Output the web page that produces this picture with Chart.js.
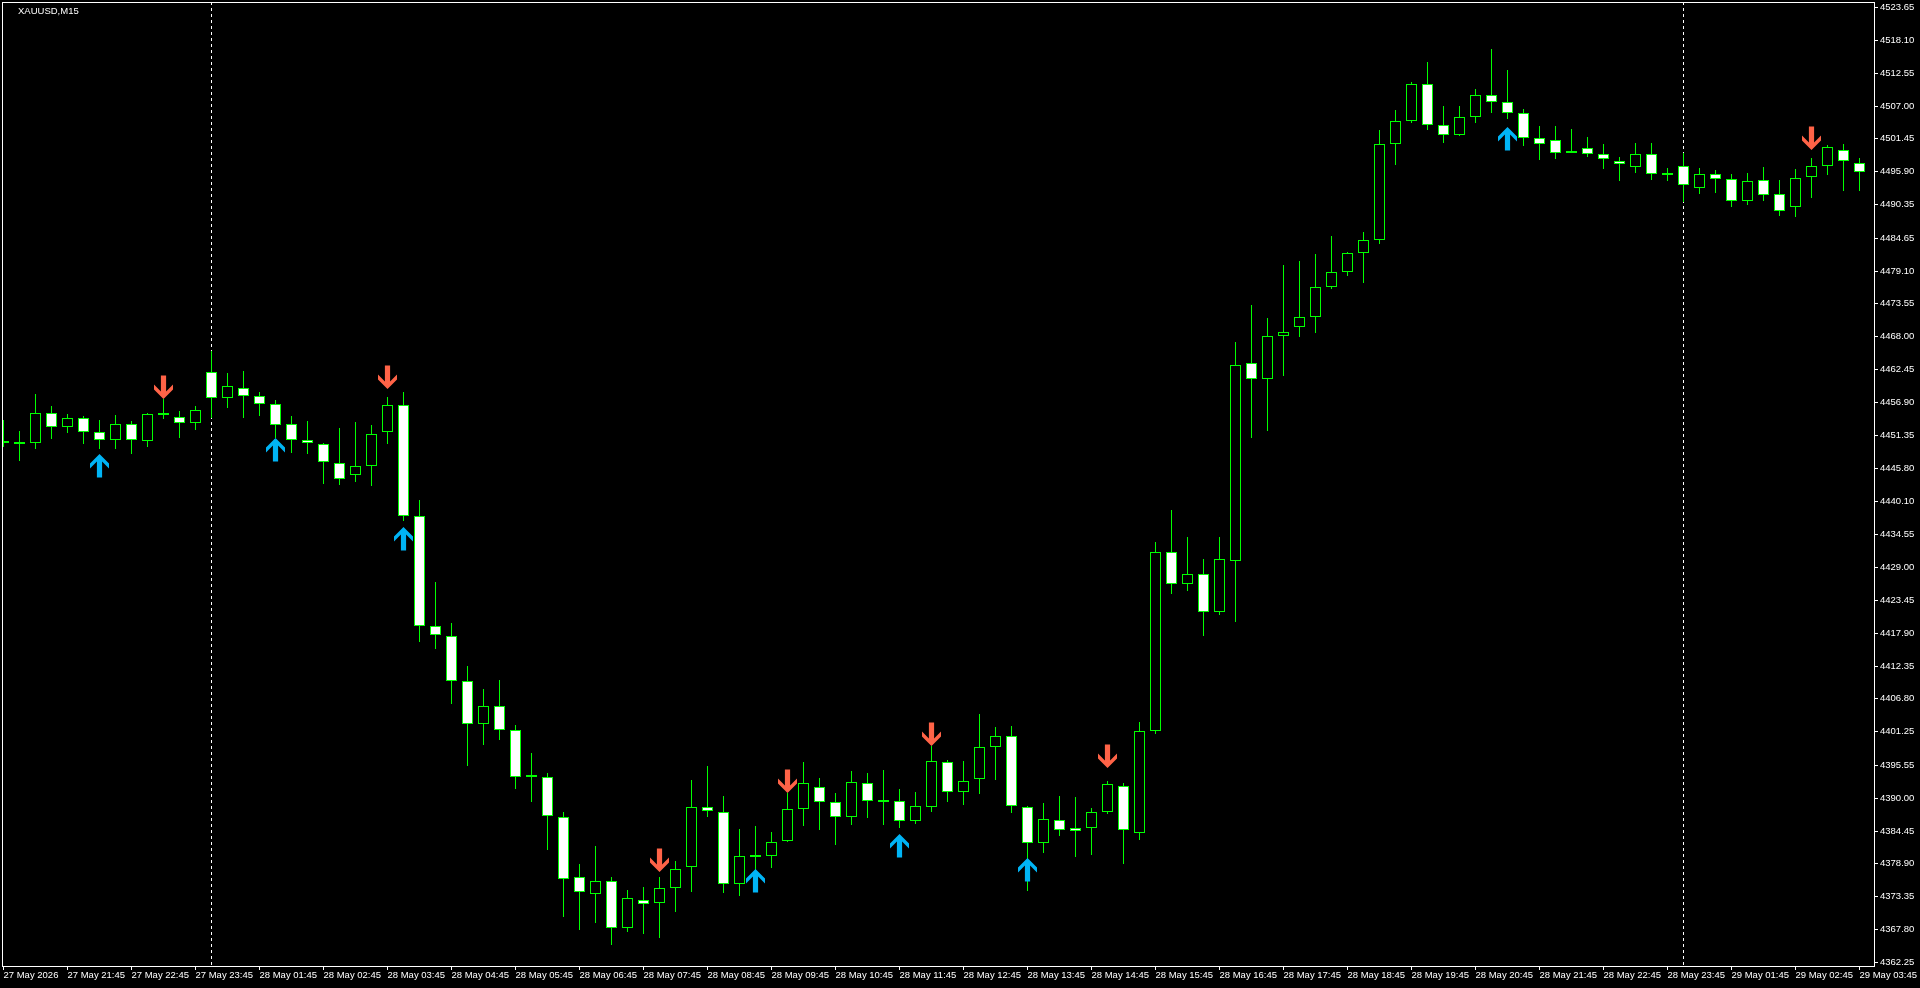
<!DOCTYPE html>
<html>
<head>
<meta charset="utf-8">
<title>XAUUSD,M15</title>
<script src="https://cdn.jsdelivr.net/npm/chart.js@4.4.1/dist/chart.umd.min.js"></script>
<style>
html, body { margin: 0; padding: 0; background: #000; overflow: hidden; }
#wrap { width: 1920px; height: 988px; }
</style>
</head>
<body>
<div id="wrap"><canvas id="candleChart" width="1920" height="988"></canvas></div>
<script>
var symbolTitle = 'XAUUSD,M15';

// OHLC, 117 bars of 15 min (27 May 20:45 .. 29 May 03:45)
var opens = [
	4450.00, 4449.85, 4449.90, 4454.98, 4452.61, 4454.13, 4451.76, 4450.47, 4453.12, 4450.24,
	4454.98, 4454.30, 4453.29, 4461.90, 4457.51, 4459.20, 4457.85, 4456.50, 4453.12, 4450.41,
	4449.74, 4446.65, 4444.58, 4446.01, 4451.77, 4456.36, 4437.66, 4418.97, 4417.42, 4409.66,
	4402.41, 4405.45, 4401.38, 4393.49, 4393.49, 4386.70, 4376.54, 4373.76, 4376.02, 4367.93,
	4372.79, 4372.16, 4374.70, 4378.25, 4388.50, 4387.66, 4375.38, 4380.28, 4380.11, 4382.64,
	4388.05, 4391.88, 4389.23, 4386.70, 4392.45, 4389.40, 4389.40, 4386.14, 4388.50, 4395.99,
	4390.93, 4393.23, 4398.56, 4400.52, 4388.48, 4382.33, 4386.18, 4384.95, 4384.95, 4387.66,
	4391.92, 4383.97, 4401.34, 4431.49, 4426.08, 4427.88, 4421.33, 4430.09, 4463.44, 4460.73,
	4468.02, 4469.51, 4471.20, 4476.27, 4478.80, 4482.01, 4484.21, 4500.44, 4504.32, 4510.58,
	4503.65, 4501.96, 4505.00, 4508.72, 4507.54, 4505.68, 4501.56, 4501.11, 4498.92, 4499.76,
	4498.75, 4497.56, 4496.66, 4498.75, 4495.25, 4496.72, 4493.11, 4495.37, 4494.52, 4490.80,
	4494.35, 4491.99, 4489.79, 4494.86, 4496.72, 4499.42, 4497.23
];
var highs = [
	4453.85, 4451.99, 4458.24, 4456.22, 4454.86, 4454.53, 4453.85, 4454.69, 4453.68, 4455.09,
	4457.34, 4455.37, 4456.22, 4465.51, 4461.79, 4462.13, 4458.64, 4457.17, 4454.53, 4453.68,
	4450.02, 4452.48, 4453.51, 4452.99, 4457.72, 4458.56, 4440.25, 4426.47, 4419.62, 4412.24,
	4408.36, 4409.98, 4402.22, 4397.56, 4394.13, 4387.67, 4378.74, 4381.84, 4376.54, 4374.40,
	4374.92, 4376.67, 4379.32, 4393.01, 4395.38, 4390.30, 4384.73, 4385.23, 4384.22, 4390.76,
	4396.05, 4393.29, 4390.76, 4394.53, 4394.19, 4394.70, 4391.49, 4390.98, 4398.81, 4396.39,
	4396.22, 4404.21, 4401.99, 4402.16, 4388.60, 4389.05, 4390.28, 4390.12, 4388.23, 4392.82,
	4392.58, 4402.81, 4433.29, 4438.70, 4434.11, 4430.42, 4434.11, 4466.96, 4473.27, 4471.14,
	4480.07, 4480.72, 4481.90, 4484.94, 4482.24, 4485.62, 4502.86, 4506.24, 4510.92, 4514.35,
	4506.92, 4506.92, 4509.79, 4516.55, 4513.00, 4506.35, 4503.53, 4503.53, 4503.03, 4501.68,
	4500.49, 4498.30, 4500.66, 4500.66, 4496.38, 4498.92, 4496.38, 4496.04, 4495.37, 4495.59,
	4496.61, 4494.41, 4496.27, 4498.07, 4500.27, 4500.49, 4498.07
];
var lows = [
	4449.34, 4446.98, 4449.00, 4450.69, 4451.71, 4449.79, 4449.00, 4449.00, 4448.16, 4449.34,
	4454.07, 4450.86, 4452.16, 4454.13, 4455.88, 4454.24, 4454.53, 4450.80, 4448.33, 4448.16,
	4442.98, 4442.90, 4443.29, 4442.77, 4449.83, 4436.82, 4416.38, 4415.22, 4405.78, 4395.43,
	4398.98, 4399.82, 4391.55, 4389.28, 4381.20, 4369.88, 4367.61, 4368.90, 4365.15, 4367.29,
	4366.96, 4366.25, 4370.76, 4374.14, 4386.70, 4373.97, 4373.46, 4377.80, 4378.19, 4382.50,
	4385.24, 4384.56, 4382.02, 4385.40, 4386.64, 4385.40, 4384.95, 4385.63, 4387.66, 4389.35,
	4388.84, 4390.69, 4392.98, 4387.41, 4374.30, 4380.70, 4383.56, 4380.04, 4380.29, 4387.25,
	4378.89, 4382.91, 4400.77, 4424.52, 4424.93, 4417.40, 4420.84, 4419.77, 4450.74, 4452.05,
	4461.22, 4467.94, 4468.60, 4476.00, 4478.24, 4477.06, 4483.54, 4497.00, 4504.00, 4502.86,
	4500.72, 4501.90, 4504.10, 4505.79, 4504.77, 4500.21, 4497.84, 4498.01, 4498.90, 4498.35,
	4496.32, 4494.30, 4495.65, 4494.46, 4494.30, 4490.75, 4492.10, 4492.27, 4489.90, 4490.24,
	4490.92, 4488.38, 4488.21, 4491.42, 4495.31, 4492.61, 4492.61
];
var closes = [
	4449.90, 4449.95, 4454.98, 4452.72, 4454.13, 4451.76, 4450.47, 4453.12, 4450.41, 4454.81,
	4454.64, 4453.29, 4455.48, 4457.51, 4459.54, 4457.85, 4456.50, 4452.95, 4450.41, 4449.90,
	4446.69, 4443.81, 4446.01, 4451.44, 4456.36, 4437.66, 4418.97, 4417.48, 4409.66, 4402.41,
	4405.45, 4401.38, 4393.49, 4393.45, 4386.89, 4376.22, 4374.08, 4376.02, 4367.93, 4372.98,
	4372.01, 4374.70, 4377.91, 4388.39, 4387.77, 4375.38, 4380.11, 4379.94, 4382.47, 4388.05,
	4392.45, 4389.23, 4386.70, 4392.61, 4389.40, 4389.35, 4386.14, 4388.56, 4396.16, 4390.93,
	4392.78, 4398.56, 4400.52, 4388.64, 4382.33, 4386.35, 4384.55, 4384.46, 4387.66, 4392.33,
	4384.63, 4401.34, 4431.49, 4426.16, 4427.88, 4421.33, 4430.42, 4463.19, 4460.73, 4468.10,
	4468.68, 4471.20, 4476.27, 4478.80, 4482.01, 4484.21, 4500.44, 4504.32, 4510.58, 4503.65,
	4501.96, 4505.00, 4508.72, 4507.54, 4505.68, 4501.56, 4500.44, 4498.92, 4499.25, 4498.75,
	4497.90, 4497.11, 4498.75, 4495.37, 4495.22, 4493.51, 4495.37, 4494.52, 4490.80, 4494.18,
	4491.82, 4489.11, 4494.69, 4496.72, 4499.93, 4497.56, 4495.71
];

// signal arrows (bar index, price at the arrow tip)
var upArrowBars = [6, 17, 25, 47, 56, 64, 94];
var upArrowPrices = [4448.10, 4450.86, 4435.72, 4377.97, 4383.88, 4379.88, 4503.42];
var downArrowBars = [10, 24, 41, 49, 58, 69, 113];
var downArrowPrices = [4457.34, 4459.07, 4377.40, 4390.76, 4398.81, 4395.03, 4499.48];

// day separators (first bar of 28 May and 29 May)
var daySeparators = [13, 105];

// time axis labels
var xTickBars = [0, 4, 8, 12, 16, 20, 24, 28, 32, 36, 40, 44, 48, 52, 56, 60, 64, 68, 72, 76, 80, 84, 88, 92, 96, 100, 104, 108, 112, 116];
var xTickLabels = [
	'27 May 2026', '27 May 21:45', '27 May 22:45', '27 May 23:45', '28 May 01:45', '28 May 02:45',
	'28 May 03:45', '28 May 04:45', '28 May 05:45', '28 May 06:45', '28 May 07:45', '28 May 08:45',
	'28 May 09:45', '28 May 10:45', '28 May 11:45', '28 May 12:45', '28 May 13:45', '28 May 14:45',
	'28 May 15:45', '28 May 16:45', '28 May 17:45', '28 May 18:45', '28 May 19:45', '28 May 20:45',
	'28 May 21:45', '28 May 22:45', '28 May 23:45', '29 May 01:45', '29 May 02:45', '29 May 03:45'
];

// price axis labels
var yTickLabels = [
	'4362.25', '4367.80', '4373.35', '4378.90', '4384.45', '4390.00', '4395.55', '4401.25', '4406.80', '4412.35',
	'4417.90', '4423.45', '4429.00', '4434.55', '4440.10', '4445.80', '4451.35', '4456.90', '4462.45', '4468.00',
	'4473.55', '4479.10', '4484.65', '4490.35', '4495.90', '4501.45', '4507.00', '4512.55', '4518.10', '4523.65'
];

var LIME = '#00ff00';
var FONT = { family: "'Liberation Sans', Arial, sans-serif", size: 9.5, lineHeight: 1 };

// wingdings-like arrow, tip in the middle of the image
function makeArrow(color, up) {
	var c = document.createElement('canvas');
	c.width = 21;
	c.height = 48;
	var g = c.getContext('2d');
	var cx = 10.5, cy = 24, s = up ? 1 : -1;
	var pts = [[0, 0], [9.5, 9.5], [9.5, 14.5], [2.6, 7.6], [2.6, 23.5], [-2.6, 23.5], [-2.6, 7.6], [-9.5, 14.5], [-9.5, 9.5]];
	g.beginPath();
	for (var i = 0; i < pts.length; i++) {
		var px = cx + pts[i][0], py = cy + s * pts[i][1];
		if (i == 0) g.moveTo(px, py); else g.lineTo(px, py);
	}
	g.closePath();
	g.fillStyle = color;
	g.fill();
	return c;
}

var wickData = [], bodyData = [];
for (var i = 0; i < opens.length; i++) {
	wickData.push({ x: i, y: [lows[i], highs[i]] });
	bodyData.push({ x: i, y: [opens[i], closes[i]] });
}
var upData = upArrowBars.map(function(b, i) { return { x: b, y: upArrowPrices[i] }; });
var downData = downArrowBars.map(function(b, i) { return { x: b, y: downArrowPrices[i] }; });

var framePlugin = {
	id: 'frame',
	afterDraw: function(chart) {
		var a = chart.chartArea, ctx = chart.ctx;
		ctx.save();
		ctx.strokeStyle = '#ffffff';
		ctx.lineWidth = 1;
		ctx.strokeRect(a.left + 0.5, a.top + 0.5, a.right - a.left, a.bottom - a.top);
		ctx.fillStyle = '#ffffff';
		ctx.font = "9.5px 'Liberation Sans', Arial, sans-serif";
		ctx.textBaseline = 'middle';
		ctx.fillText(symbolTitle, 18, 11);
		ctx.restore();
	}
};

var ctx = document.getElementById('candleChart').getContext('2d');
var myChart = new Chart(ctx, {
	type: 'bar',
	data: {
		datasets: [
			{
				type: 'scatter',
				data: upData,
				pointStyle: makeArrow('#00b4f5', true),
				pointRadius: 1,
				pointBorderWidth: 0,
				order: 0
			},
			{
				type: 'scatter',
				data: downData,
				pointStyle: makeArrow('#ff6347', false),
				pointRadius: 1,
				pointBorderWidth: 0,
				order: 0
			},
			{
				label: 'body',
				data: bodyData,
				grouped: false,
				barThickness: 11,
				minBarLength: 2,
				inflateAmount: 0,
				borderSkipped: false,
				borderWidth: 1,
				borderColor: LIME,
				backgroundColor: function(c) {
					var i = c.dataIndex;
					return closes[i] < opens[i] ? '#ffffff' : '#000000';
				},
				order: 1
			},
			{
				label: 'wick',
				data: wickData,
				grouped: false,
				barThickness: 1,
				inflateAmount: 0,
				borderWidth: 0,
				backgroundColor: LIME,
				order: 2
			}
		]
	},
	options: {
		responsive: false,
		animation: false,
		events: [],
		layout: { autoPadding: false, padding: { left: 2, top: 2, right: 0, bottom: 0 } },
		plugins: { legend: { display: false }, tooltip: { enabled: false } },
		scales: {
			x: {
				type: 'linear',
				position: 'bottom',
				bounds: 'data',
				offset: false,
				min: -0.09375,
				max: 116.90625,
				afterBuildTicks: function(scale) {
					var v = xTickBars.concat(daySeparators).sort(function(a, b) { return a - b; });
					scale.ticks = v.map(function(t) { return { value: t }; });
				},
				afterFit: function(scale) {
					scale.height = 22;
					scale.paddingLeft = 0;
					scale.paddingRight = 0;
				},
				ticks: {
					autoSkip: false,
					maxRotation: 0,
					minRotation: 0,
					align: 'start',
					padding: 1,
					color: '#ffffff',
					font: FONT,
					callback: function(value) {
						var k = xTickBars.indexOf(value);
						return k < 0 ? '' : xTickLabels[k];
					}
				},
				grid: {
					offset: false,
					drawOnChartArea: true,
					drawTicks: true,
					tickLength: 4,
					lineWidth: 1,
					color: function(c) {
						return c.tick && daySeparators.indexOf(c.tick.value) >= 0 ? '#ffffff' : 'rgba(0,0,0,0)';
					},
					tickColor: function(c) {
						return c.tick && daySeparators.indexOf(c.tick.value) >= 0 ? 'rgba(0,0,0,0)' : '#ffffff';
					}
				},
				border: { display: false, dash: [3, 3] }
			},
			y: {
				type: 'linear',
				position: 'right',
				bounds: 'data',
				alignToPixels: true,
				min: 4361.57,
				max: 4524.50,
				afterBuildTicks: function(scale) {
					scale.ticks = yTickLabels.map(function(s) { return { value: parseFloat(s) }; });
				},
				afterFit: function(scale) {
					scale.width = 46;
					scale.paddingTop = 0;
					scale.paddingBottom = 0;
				},
				ticks: {
					padding: 2,
					color: '#ffffff',
					font: FONT,
					callback: function(value, index) {
						return yTickLabels[index];
					}
				},
				grid: {
					drawOnChartArea: false,
					drawTicks: true,
					tickLength: 4,
					tickColor: '#ffffff'
				},
				border: { display: false }
			}
		}
	},
	plugins: [framePlugin]
});
</script>
</body>
</html>
